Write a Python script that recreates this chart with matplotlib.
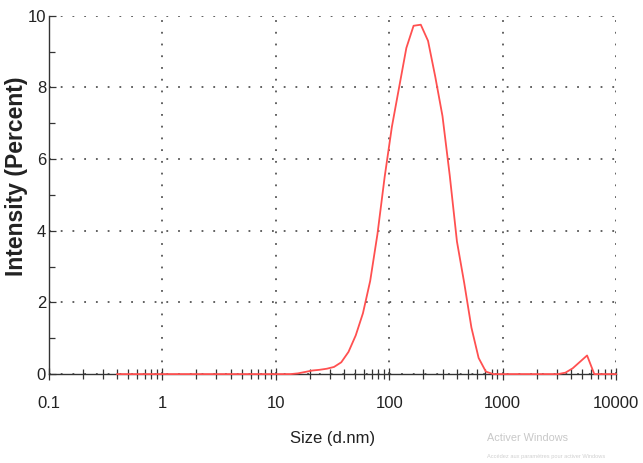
import numpy as np
import matplotlib
matplotlib.use("Agg")
import matplotlib.pyplot as plt
from matplotlib.ticker import FixedLocator, NullFormatter

# ---------------------------------------------------------
# DATA (size distribution by intensity)
# ---------------------------------------------------------
size_nm = [
    0.4, 0.4632, 0.5365, 0.6213, 0.7195, 0.8332, 0.965, 1.117, 1.294, 1.499,
    1.736, 2.01, 2.328, 2.696, 3.122, 3.615, 4.187, 4.849, 5.615, 6.503,
    7.531, 8.721, 10.1, 11.7, 13.54, 15.69, 18.17, 21.04, 24.36, 28.21,
    32.67, 37.84, 43.82, 50.75, 58.77, 68.06, 78.82, 91.28, 105.7, 122.4,
    141.8, 164.2, 190.1, 220.2, 255.0, 295.3, 342.0, 396.1, 458.7, 531.2,
    615.1, 712.4, 825.0, 955.4, 1106, 1281, 1484, 1718, 1990, 2305,
    2669, 3091, 3580, 4145, 4801, 5560, 6439, 7456, 8635, 10000,
]
intensity = [
    0, 0, 0, 0, 0, 0, 0, 0, 0, 0,
    0, 0, 0, 0, 0, 0, 0, 0, 0, 0,
    0, 0, 0, 0, 0, 0.02, 0.06, 0.10, 0.12, 0.15,
    0.20, 0.33, 0.62, 1.08, 1.7, 2.6, 3.9, 5.5, 6.9, 8.0,
    9.1, 9.72, 9.75, 9.3, 8.3, 7.2, 5.55, 3.7, 2.55, 1.3,
    0.45, 0.07, 0, 0, 0, 0, 0, 0, 0, 0,
    0, 0, 0.04, 0.16, 0.34, 0.52, 0, 0, 0, 0,
]

x_ticks = [0.1, 1, 10, 100, 1000, 10000]
x_labels = ["0.1", "1", "10", "100", "1000", "10000"]
y_ticks = [0, 2, 4, 6, 8, 10]
y_minor = [1, 3, 5, 7, 9]

# ---------------------------------------------------------
# PLOT
# ---------------------------------------------------------
font = ["Liberation Sans", "DejaVu Sans"]

fig = plt.figure(figsize=(6.43, 4.63), dpi=100)
ax = fig.add_axes([0.076, 0.192, 0.882, 0.774])

ax.plot(size_nm, intensity, color="#ff5050", linewidth=1.3, clip_on=False, zorder=4)

ax.set_xscale("log")
ax.set_xlim(0.1, 10000)
ax.set_ylim(0, 10)

ax.xaxis.set_major_locator(FixedLocator(x_ticks))
ax.set_xticklabels(x_labels, family=font, fontsize=12, color="#222222")
minor_x = [m * d for d in [0.1, 1, 10, 100, 1000] for m in range(2, 10)]
ax.xaxis.set_minor_locator(FixedLocator(minor_x))
ax.xaxis.set_minor_formatter(NullFormatter())

ax.set_yticks(y_ticks)
ax.set_yticklabels([str(v) for v in y_ticks], family=font, fontsize=12, color="#222222")
ax.yaxis.set_minor_locator(FixedLocator(y_minor))

ax.tick_params(axis="x", which="major", direction="inout", length=9, width=0.9, color="#333333", pad=11)
ax.tick_params(axis="x", which="minor", direction="inout", length=7, width=0.9, color="#333333")
ax.tick_params(axis="y", which="major", direction="in", length=5, width=0.9, color="#333333", pad=2)
ax.tick_params(axis="y", which="minor", direction="in", length=4, width=0.9, color="#333333")

for s in ["top", "right"]:
    ax.spines[s].set_visible(False)
for s in ["left", "bottom"]:
    ax.spines[s].set_color("#333333")
    ax.spines[s].set_linewidth(1.0)
    ax.spines[s].set_zorder(3)

ax.grid(True, which="major", linestyle=(0, (1, 5.5)), linewidth=1.3, color="#555555")

ax.set_xlabel("Size (d.nm)", family=font, fontsize=12, labelpad=15, color="#222222")
ax.set_ylabel("Intensity (Percent)", family=font, fontsize=16.5, fontweight="bold", color="#222222")
ax.yaxis.set_label_coords(-0.037, 0.551)

# Windows activation watermark visible in the screenshot
fig.text(0.757, 0.048, "Activer Windows", family=font, fontsize=7.8, color="#c8c8c8")
fig.text(0.757, 0.010, "Accédez aux paramètres pour activer Windows",
         family=font, fontsize=4.1, color="#d0d0d0")

fig.savefig("out.png", dpi=100)
